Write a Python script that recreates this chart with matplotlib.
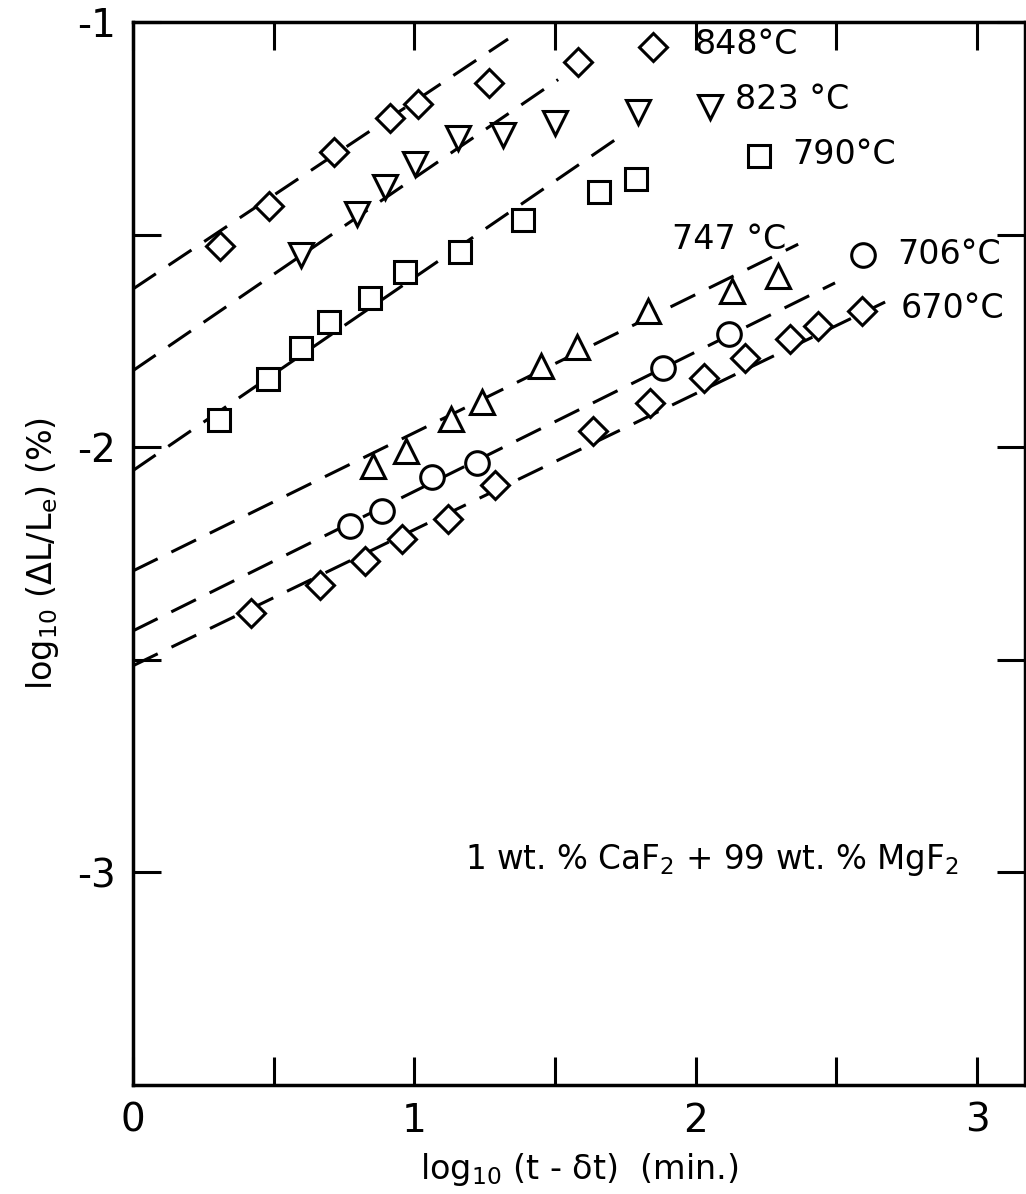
import matplotlib
matplotlib.use("Agg")
import matplotlib.pyplot as plt
import numpy as np

plt.rcParams['font.family'] = 'DejaVu Sans'
plt.rcParams['mathtext.default'] = 'regular'
plt.rcParams['axes.unicode_minus'] = False

# data: log10(t - dt) vs log10(dL/Le)
x_848 = [0.309, 0.483, 0.714, 0.914, 1.013, 1.265, 1.582, 1.848]
y_848 = [-1.527, -1.433, -1.305, -1.225, -1.192, -1.143, -1.094, -1.059]

x_823 = [0.597, 0.796, 0.896, 1.002, 1.155, 1.315, 1.500, 1.795, 2.051]
y_823 = [-1.548, -1.452, -1.387, -1.335, -1.272, -1.265, -1.237, -1.211, -1.199]

x_790 = [0.306, 0.480, 0.597, 0.697, 0.842, 0.967, 1.162, 1.386, 1.657, 1.788, 2.225]
y_790 = [-1.937, -1.839, -1.766, -1.705, -1.649, -1.588, -1.541, -1.466, -1.401, -1.370, -1.316]

x_747 = [0.853, 0.970, 1.130, 1.241, 1.450, 1.578, 1.831, 2.129, 2.293]
y_747 = [-2.045, -2.010, -1.933, -1.893, -1.809, -1.764, -1.680, -1.633, -1.598]

x_706 = [0.771, 0.885, 1.063, 1.223, 1.884, 2.119, 2.595]
y_706 = [-2.186, -2.151, -2.069, -2.038, -1.813, -1.734, -1.548]

x_670 = [0.419, 0.665, 0.825, 0.956, 1.120, 1.287, 1.635, 1.838, 2.030, 2.176, 2.336, 2.435, 2.592]
y_670 = [-2.390, -2.324, -2.268, -2.216, -2.169, -2.089, -1.963, -1.895, -1.837, -1.790, -1.745, -1.715, -1.680]

# dashed fit lines: intercept at x=0, slope, x where the line stops
fit_intercept = [-1.628, -1.820, -2.055, -2.291, -2.432, -2.514]
fit_slope = [0.441, 0.453, 0.454, 0.325, 0.328, 0.320]
fit_end = [1.333, 1.511, 1.724, 2.364, 2.495, 2.673]

temps = ["848", "823", "790", "747", "706", "670"]
xs = [x_848, x_823, x_790, x_747, x_706, x_670]
ys = [y_848, y_823, y_790, y_747, y_706, y_670]
marks = ['D', 'v', 's', '^', 'o', 'D']
sizes = [14, 17, 16, 17, 17, 14]

label_text = ["848°C", "823 °C", "790°C", "747 °C", "706°C", "670°C"]
label_pos = [(1.998, -1.054), (2.14, -1.183), (2.343, -1.312),
             (1.916, -1.511), (2.716, -1.546), (2.727, -1.675)]

fig = plt.figure(figsize=(10.26, 11.94), dpi=100)
ax = fig.add_axes([0.1296, 0.0913, 0.8694, 0.8903])

for i in range(len(temps)):
    lx = np.array([0.0, fit_end[i]])
    ly = fit_intercept[i] + fit_slope[i] * lx
    ax.plot(lx, ly, color='black', lw=2.2, linestyle=(0, (9, 5)), zorder=2)
    ax.plot(xs[i], ys[i], linestyle='none', marker=marks[i], markersize=sizes[i],
            markerfacecolor='white', markeredgecolor='black', markeredgewidth=2.2, zorder=3)
    ax.text(label_pos[i][0], label_pos[i][1], label_text[i], fontsize=24,
            ha='left', va='center')

ax.text(1.18, -2.97, "1 wt. % CaF$_2$ + 99 wt. % MgF$_2$", fontsize=23.5,
        ha='left', va='center')

ax.set_xlim(0, 3.17)
ax.set_ylim(-3.5, -1)
ax.set_xticks([0, 1, 2, 3])
ax.set_xticklabels(["0", "1", "2", "3"])
ax.set_xticks([0.5, 1.5, 2.5], minor=True)
ax.set_yticks([-1, -2, -3])
ax.set_yticklabels(["-1", "-2", "-3"])
ax.set_yticks([-1.5, -2.5], minor=True)

ax.tick_params(which='both', direction='in', length=20, width=2.2,
               top=True, right=True, labelsize=28, pad=12)
for s in ax.spines.values():
    s.set_linewidth(2.5)

ax.set_xlabel("log$_{10}$ (t - δt)  (min.)", fontsize=24, labelpad=8)
ax.set_ylabel("log$_{10}$ (ΔL/L$_e$) (%)", fontsize=24, labelpad=12)

fig.savefig("out.png", dpi=100)
